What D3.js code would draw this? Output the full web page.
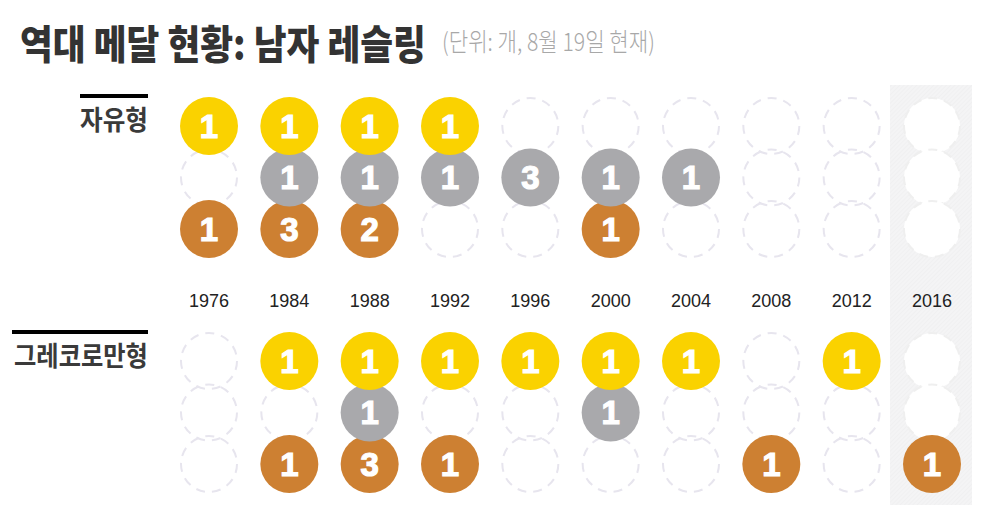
<!DOCTYPE html>
<html><head><meta charset="utf-8">
<script src="https://cdn.jsdelivr.net/npm/d3@7/dist/d3.min.js"></script>
<style>body{margin:0;background:#fff;}svg{display:block;}</style>
</head><body>
<svg id="c" width="1000" height="529"></svg>
<script>
const years = ["1976","1984","1988","1992","1996","2000","2004","2008","2012","2016"];
const medals = ["gold","silver","bronze"];
const freeGold   = [1,1,1,1,0,0,0,0,0,0];
const freeSilver = [0,1,1,1,3,1,1,0,0,0];
const freeBronze = [1,3,2,0,0,1,0,0,0,0];
const grecoGold   = [0,1,1,1,1,1,1,0,1,0];
const grecoSilver = [0,0,1,0,0,1,0,0,0,0];
const grecoBronze = [0,1,3,1,0,0,0,1,0,1];
const sections = ["자유형","그레코로만형"];
const title = "역대 메달 현황: 남자 레슬링";
const subtitle = "(단위: 개, 8월 19일 현재)";
const highlightYear = "2016";

const colors = {gold:"#fad200", silver:"#a9a9ac", bronze:"#cd8032"};
const svg = d3.select("#c");
const x = d3.scalePoint().domain(years).range([209, 932]);
const yFree = d3.scalePoint().domain(medals).range([126, 229]);
const yGreco = d3.scalePoint().domain(medals).range([361, 464]);
const R = 29;

// place text scaled horizontally to fit a target width; anchor "start" or "end" at x
function fitText(str, xPos, yPos, width, anchor, attrs) {
  const g = svg.append("g");
  const t = g.append("text").text(str).attr("x",0).attr("y",0);
  Object.entries(attrs).forEach(([k,v])=>t.attr(k,v));
  const w = t.node().getComputedTextLength();
  const s = width / w;
  const tx = anchor === "end" ? xPos - width : xPos;
  g.attr("transform", `translate(${tx},${yPos}) scale(${s},1)`);
  return g;
}

const defs = svg.append("defs");
const pat = defs.append("pattern").attr("id","hatch").attr("patternUnits","userSpaceOnUse")
  .attr("width",3).attr("height",3).attr("patternTransform","rotate(45)");
pat.append("rect").attr("width",3).attr("height",3).attr("fill","#f4f4f5");
pat.append("line").attr("x1",0).attr("y1",0).attr("x2",0).attr("y2",3).attr("stroke","#ececee").attr("stroke-width",1);

svg.append("rect").attr("x", x(highlightYear)-42).attr("y",85).attr("width",82).attr("height",420)
  .attr("fill","url(#hatch)");

fitText(title, 20, 59, 406, "start", {
  "font-family":"'Noto Sans CJK KR'", "font-weight":900, "font-size":40, "fill":"#333"});
fitText(subtitle, 442, 51, 213, "start", {
  "font-family":"'Noto Sans CJK KR'", "font-weight":300, "font-size":25, "fill":"#a8a8a8"});

function drawSection(label, data, yScale, barX, barY, labelY, labelLen) {
  svg.append("rect").attr("x",barX).attr("y",barY).attr("width",148-barX).attr("height",4).attr("fill","#000");
  fitText(label, 148, labelY, labelLen, "end", {
    "font-family":"'Noto Sans CJK KR'", "font-weight":700, "font-size":27, "fill":"#3a3a3a"});
  const g = svg.append("g");
  const cells = [];
  medals.forEach((m,i)=>years.forEach((yr,j)=>cells.push({m, yr, v:data[i][j]})));
  g.selectAll("circle.empty").data(cells.filter(d=>d.v===0)).join("circle")
    .attr("class","empty")
    .attr("cx",d=>x(d.yr)).attr("cy",d=>yScale(d.m)).attr("r",R-1)
    .attr("fill",d=>d.yr===highlightYear?"#fff":"none")
    .attr("stroke",d=>d.yr===highlightYear?"#efefef":"#e7e5ee")
    .attr("stroke-width",2).attr("stroke-dasharray","9,7");
  const filled = cells.filter(d=>d.v>0).sort((a,b)=>medals.indexOf(b.m)-medals.indexOf(a.m));
  const fg = g.selectAll("g.medal").data(filled).join("g").attr("class","medal")
    .attr("transform",d=>`translate(${x(d.yr)},${yScale(d.m)})`);
  fg.append("circle").attr("r",R).attr("fill",d=>colors[d.m]);
  fg.append("text").attr("y",11.5).attr("text-anchor","middle").text(d=>d.v)
    .attr("font-family","'Liberation Sans', Arial, sans-serif").attr("font-weight",700)
    .attr("font-size",33).attr("fill","#fff").attr("stroke","#fff").attr("stroke-width",1.2);
}
drawSection(sections[0], [freeGold, freeSilver, freeBronze], yFree, 80, 94, 130, 68);
drawSection(sections[1], [grecoGold, grecoSilver, grecoBronze], yGreco, 12, 330, 366, 134);

svg.append("g").selectAll("text").data(years).join("text")
  .attr("x",d=>x(d)).attr("y",307).attr("text-anchor","middle").text(d=>d)
  .attr("font-family","'Liberation Sans', Arial, sans-serif").attr("font-size",18).attr("fill","#222");
</script>
</body></html>
